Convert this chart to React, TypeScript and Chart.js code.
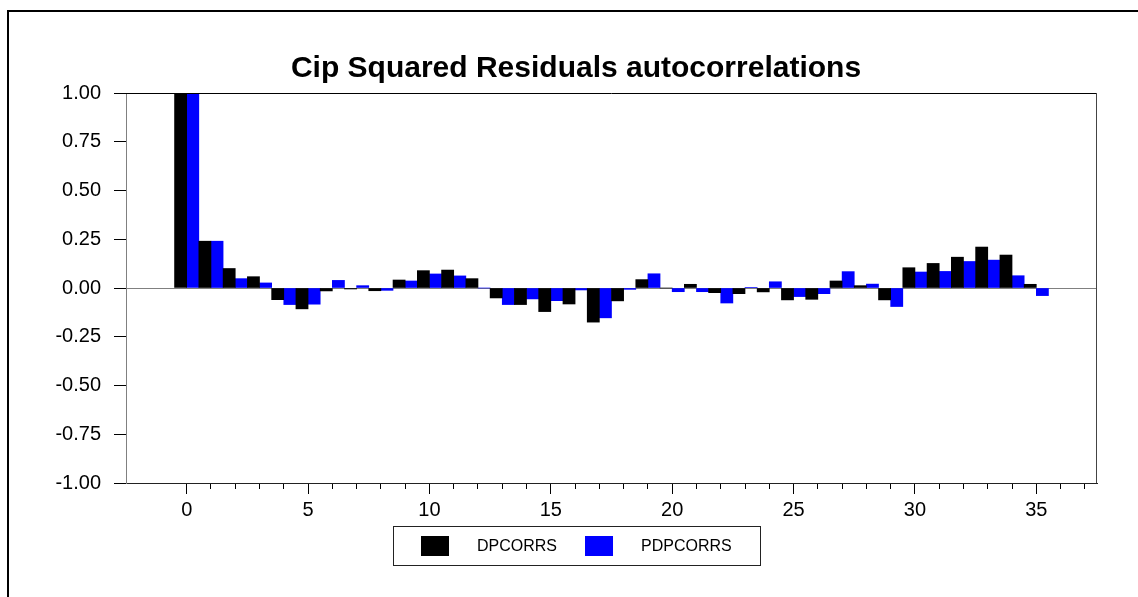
import React, { useEffect, useRef } from "react";
import { Chart, registerables } from "chart.js";

Chart.register(...registerables);

const chartTitle = "Cip Squared Residuals autocorrelations";
const seriesLabels = ["DPCORRS", "PDPCORRS"];
const seriesColors = ["#000000", "#0000ff"];

const lags = [
  0, 1, 2, 3, 4, 5, 6, 7, 8, 9, 10, 11, 12, 13, 14, 15, 16, 17, 18, 19, 20, 21, 22, 23, 24, 25, 26, 27, 28, 29, 30, 31, 32, 33, 34, 35,
];

const dpcorrs = [
  1.0, 0.24, 0.1, 0.058, -0.06, -0.107, -0.015, -0.005, -0.014, 0.041, 0.089, 0.092, 0.048, -0.051, -0.085, -0.121, -0.082, -0.175,
  -0.066, 0.043, 0.0, 0.019, -0.024, -0.029, -0.02, -0.061, -0.058, 0.036, 0.012, -0.061, 0.104, 0.126, 0.158, 0.21, 0.169, 0.019,
];

const pdpcorrs = [
  1.0, 0.24, 0.048, 0.026, -0.085, -0.083, 0.039, 0.012, -0.012, 0.036, 0.072, 0.062, 0.0, -0.085, -0.056, -0.065, -0.01, -0.153,
  -0.007, 0.073, -0.019, -0.019, -0.077, 0.002, 0.032, -0.044, -0.029, 0.084, 0.02, -0.095, 0.082, 0.085, 0.136, 0.143, 0.063, -0.039,
];

const xTickValues = [
  0, 1, 2, 3, 4, 5, 6, 7, 8, 9, 10, 11, 12, 13, 14, 15, 16, 17, 18, 19, 20, 21, 22, 23, 24, 25, 26, 27, 28, 29, 30, 31, 32, 33, 34, 35, 36, 37,
];
const xLabelStep = 5;
const xLabelMax = 35;
const yTickStep = 0.25;

const FONT = "'Liberation Sans', Arial, Helvetica, sans-serif";

const framePlugin = {
  id: "frameAndLegend",
  afterDraw(chart: any) {
    const ctx = chart.ctx as CanvasRenderingContext2D;
    const ca = chart.chartArea;
    ctx.save();
    // plot frame top and right
    ctx.lineWidth = 1;
    ctx.strokeStyle = "#000";
    ctx.beginPath();
    ctx.moveTo(ca.left, Math.round(ca.top) + 0.5);
    ctx.lineTo(ca.right, Math.round(ca.top) + 0.5);
    ctx.stroke();
    ctx.strokeStyle = "#444";
    ctx.beginPath();
    ctx.moveTo(Math.round(ca.right) - 0.5, ca.top);
    ctx.lineTo(Math.round(ca.right) - 0.5, ca.bottom);
    ctx.stroke();

    // legend box
    const pad = chart.options.layout.padding;
    const cx = (pad.left + (chart.width - pad.right)) / 2;
    ctx.font = `16px ${FONT}`;
    const sw = 28;
    const sh = 20;
    const gap = 28;
    const widths = chart.data.datasets.map((d: any) => ctx.measureText(d.label).width);
    let total = gap;
    widths.forEach((w: number) => {
      total += sw + gap + w + gap;
    });
    const boxTop = Math.round(ca.bottom) + 43;
    const boxH = 39;
    const left = Math.round(cx - total / 2);
    ctx.strokeStyle = "#222";
    ctx.lineWidth = 1;
    ctx.strokeRect(left + 0.5, boxTop + 0.5, Math.round(total), boxH);
    let x = left + gap;
    const midY = boxTop + boxH / 2 + 0.5;
    chart.data.datasets.forEach((d: any, i: number) => {
      ctx.fillStyle = d.backgroundColor;
      ctx.fillRect(x, Math.round(midY - sh / 2), sw, sh);
      x += sw + gap;
      ctx.fillStyle = "#000";
      ctx.textBaseline = "middle";
      ctx.textAlign = "left";
      ctx.fillText(d.label, x, midY + 1);
      x += widths[i] + gap;
    });
    ctx.restore();
  },
};

export default function App() {
  const canvasRef = useRef<HTMLCanvasElement | null>(null);

  useEffect(() => {
    const canvas = canvasRef.current;
    if (!canvas) return;
    const chart = new Chart(canvas, {
      type: "bar",
      data: {
        datasets: [
          {
            label: seriesLabels[0],
            data: lags.map((l, i) => ({ x: l, y: dpcorrs[i] })),
            backgroundColor: seriesColors[0],
            borderWidth: 0,
          },
          {
            label: seriesLabels[1],
            data: lags.map((l, i) => ({ x: l, y: pdpcorrs[i] })),
            backgroundColor: seriesColors[1],
            borderWidth: 0,
          },
        ],
      },
      options: {
        animation: false,
        responsive: false,
        devicePixelRatio: 1,
        layout: { padding: { left: 55, right: 41, top: 39, bottom: 74 } },
        datasets: { bar: { categoryPercentage: 1, barPercentage: 1 } },
        plugins: {
          legend: { display: false },
          tooltip: { enabled: false },
          title: {
            display: true,
            text: chartTitle,
            color: "#000",
            font: { family: FONT, size: 30, weight: "bold", lineHeight: 1.2 },
            padding: { top: 12, bottom: 6 },
          },
        },
        scales: {
          x: {
            type: "linear",
            min: -2.5,
            max: 37.5,
            offset: false,
            afterBuildTicks: (s: any) => {
              s.ticks = xTickValues.map((v) => ({ value: v }));
            },
            afterFit: (s: any) => {
              s.height = 40;
            },
            grid: {
              offset: false,
              drawOnChartArea: false,
              drawTicks: true,
              tickLength: 11,
              tickColor: "#000",
              tickWidth: 1,
              tickBorderDash: (c: any) => (c.tick && c.tick.value % xLabelStep === 0 ? [] : [5, 100]),
            },
            border: { color: "#222", width: 1 },
            ticks: {
              autoSkip: false,
              maxRotation: 0,
              minRotation: 0,
              padding: 4,
              color: "#000",
              font: { family: FONT, size: 20 },
              callback: (v: any) => (Number(v) % xLabelStep === 0 && Number(v) <= xLabelMax ? String(v) : ""),
            },
          },
          y: {
            type: "linear",
            min: -1,
            max: 1,
            afterFit: (s: any) => {
              s.width = 71;
            },
            grid: {
              drawOnChartArea: true,
              color: (c: any) => (c.tick && c.tick.value === 0 ? "#808080" : "rgba(0,0,0,0)"),
              tickColor: "#000",
              tickLength: 12,
              lineWidth: 1,
            },
            border: { color: "#808080", width: 1 },
            ticks: {
              stepSize: yTickStep,
              padding: 13,
              color: "#000",
              font: { family: FONT, size: 20 },
              callback: (v: any) => Number(v).toFixed(2),
            },
          },
        },
      },
      plugins: [framePlugin],
    } as any);
    return () => chart.destroy();
  }, []);

  return (
    <div
      style={{
        position: "fixed",
        left: 0,
        top: 0,
        width: 1138,
        height: 597,
        overflow: "hidden",
        background: "#fff",
      }}
    >
      <div
        style={{
          position: "absolute",
          left: 7,
          top: 10,
          width: 1300,
          height: 800,
          borderLeft: "2px solid #000",
          borderTop: "2px solid #000",
        }}
      />
      <canvas
        ref={canvasRef}
        width={1138}
        height={597}
        style={{ position: "absolute", left: 0, top: 0, width: 1138, height: 597 }}
      />
    </div>
  );
}
